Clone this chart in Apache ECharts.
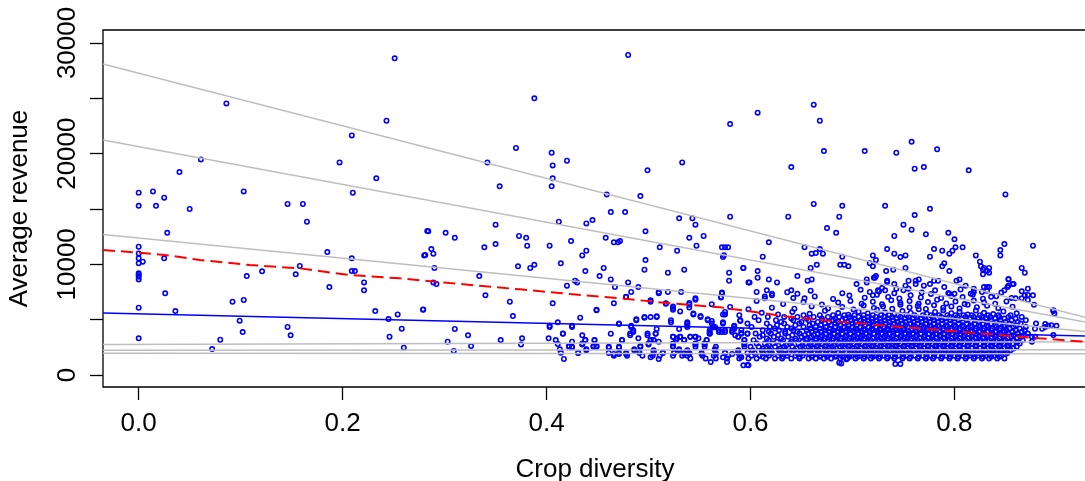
<!DOCTYPE html>
<html>
<head>
<meta charset="utf-8">
<script src="https://cdn.jsdelivr.net/npm/echarts@6/dist/echarts.min.js"></script>
<style>
  html, body { margin: 0; padding: 0; background: #fff; }
  #chart { width: 1085px; height: 481px; }
</style>
</head>
<body>
<div id="chart"></div>
<script>
// axis ticks
const xTicks = [0, 0.2, 0.4, 0.6, 0.8]
const yTicks = [0, 5000, 10000, 15000, 20000, 25000, 30000]
const yLabels = [0, 10000, 20000, 30000]

// scattered farms [crop diversity, average revenue]
const farms = [
  [0.000,16470],[0.014,16590],[0.025,16020],[0.000,15290],[0.017,15290],[0.050,15000],[0.040,18340],[0.061,19480],
  [0.086,24540],[0.103,16590],[0.146,15450],[0.161,15450],[0.165,13850],[0.028,12850],[0.000,11590],[0.000,10990],
  [0.000,10540],[0.000,10090],[0.004,10240],[0.025,10540],[0.000,9190],[0.000,9030],[0.000,8880],[0.000,8640],
  [0.106,8940],[0.121,9370],[0.154,9100],[0.158,9850],[0.185,11110],[0.197,19210],[0.209,21650],[0.243,22970],
  [0.233,17770],[0.210,16470],[0.251,28610],[0.209,10540],[0.209,9390],[0.212,9390],[0.221,8370],[0.221,7650],
  [0.187,7950],[0.026,7380],[0.092,6620],[0.103,6780],[0.000,6080],[0.036,5780],[0.232,5780],[0.254,5480],
  [0.279,5930],[0.245,5060],[0.099,4910],[0.146,4340],[0.102,3880],[0.258,4180],[0.149,3590],[0.246,3460],
  [0.000,3320],[0.080,3190],[0.072,2350],[0.260,2470],[0.283,13010],[0.281,10840],
  [0.480,28910],[0.388,25000],[0.580,22670],[0.370,20510],[0.405,20080],[0.342,19210],[0.420,19360],[0.406,18940],
  [0.533,19210],[0.499,18490],[0.406,17770],[0.354,17050],[0.405,17050],[0.492,16170],[0.459,16320],[0.463,14720],
  [0.477,14720],[0.580,14300],[0.284,12980],[0.301,12850],[0.310,12400],[0.350,13580],[0.412,13850],[0.439,13700],
  [0.445,14000],[0.530,14160],[0.543,14160],[0.546,13580],[0.497,12980],[0.373,12560],[0.380,12400],[0.381,11680],
  [0.350,11830],[0.339,11540],[0.403,11680],[0.424,12100],[0.458,12400],[0.466,11990],[0.470,11990],[0.472,12100],
  [0.540,12400],[0.554,12560],[0.511,11540],[0.528,11230],[0.547,11680],[0.572,11540],[0.575,11540],[0.578,11540],
  [0.573,10660],[0.574,10830],[0.280,10810],[0.287,11380],[0.289,10960],[0.290,9670],[0.289,8370],[0.292,8220],
  [0.435,10810],[0.439,11230],[0.414,10090],[0.388,9960],[0.384,9670],[0.372,9820],[0.438,9390],[0.456,9670],
  [0.497,10390],[0.496,9510],[0.535,9510],[0.519,9240],[0.579,9240],[0.593,9670],[0.334,8940],[0.452,8940],
  [0.463,8640],[0.428,8520],[0.430,8370],[0.480,8370],[0.467,7950],[0.490,7950],[0.420,8070],[0.579,8520],
  [0.598,8370],[0.483,7500],[0.510,7500],[0.519,7500],[0.532,7500],[0.572,7380],[0.571,7070],[0.340,7200],
  [0.478,7070],[0.546,6930],[0.517,6480],[0.540,6350],[0.364,6620],[0.406,6480],[0.466,6480],[0.502,6620],
  [0.524,6050],[0.449,5900],[0.279,5900],[0.544,5480],[0.551,5330],[0.573,5480],[0.575,5480],[0.367,5330],
  [0.433,5180],[0.488,5030],[0.496,5180],[0.502,5240],[0.508,5300],[0.522,4760],[0.558,5030],[0.562,4880],
  [0.573,4760],[0.590,4880],[0.411,4760],[0.403,4450],[0.425,4450],[0.471,4610],[0.483,4450],[0.538,4760],
  [0.538,4500],[0.563,4310],[0.565,4310],[0.584,4450],[0.584,4160],[0.310,4160],[0.508,4160],[0.530,4160],
  [0.560,3730],[0.591,3800],[0.597,3730],[0.323,3590],[0.355,3160],[0.376,3320],[0.303,3010],[0.416,3730],
  [0.402,3320],[0.409,3160],[0.435,3590],[0.438,3160],[0.425,3010],[0.447,3160],[0.326,2620],[0.375,2770],
  [0.309,2170],[0.411,2800],[0.413,2320],[0.414,2020],[0.417,1450],
  [0.463,3730],[0.474,3160],[0.482,3590],[0.485,3880],[0.490,3320],[0.499,3590],[0.502,3160],[0.505,3160],
  [0.507,3730],[0.510,3010],[0.422,2620],[0.425,2470],[0.431,2010],[0.435,2770],[0.446,2620],[0.449,2620],
  [0.439,2320],[0.461,2470],[0.466,1900],[0.471,2470],[0.471,1900],[0.478,1900],[0.486,2320],[0.491,2170],
  [0.492,2620],[0.500,2770],[0.502,1600],[0.510,1450],[0.505,2170],[0.514,2010],[0.524,2620],[0.525,2010],
  [0.527,3160],[0.530,2320],[0.535,1900],[0.538,2170],[0.540,1900],[0.546,2770],[0.552,1900],[0.555,2770],
  [0.561,1170],[0.565,2320],[0.566,1900],[0.573,1600],[0.577,1170],[0.575,2010],[0.582,1900],[0.588,2170],
  [0.591,1600],[0.594,2770],[0.598,880],
  [0.524,3460],[0.528,3320],[0.531,3460],[0.535,3160],[0.541,3460],[0.546,3460],[0.549,3320],[0.557,3160],
  [0.560,3880],[0.569,3880],[0.572,3880],[0.575,3880],[0.582,3880],[0.585,3590],[0.588,3460],[0.591,3730],[0.594,3160],
  [0.607,23700],[0.662,24420],[0.668,22970],[0.672,20230],[0.712,20230],[0.640,18790],[0.758,21070],[0.743,20080],
  [0.783,20390],[0.761,18640],[0.770,18790],[0.814,18490],[0.850,16320],[0.662,15450],[0.690,15290],[0.732,15290],
  [0.637,14300],[0.687,14300],[0.761,14450],[0.776,15020],[0.675,13280],[0.684,12850],[0.750,13580],[0.758,13130],
  [0.741,12560],[0.772,12710],[0.794,12850],[0.800,12260],[0.618,11990],[0.653,11540],[0.849,11830],[0.877,11680],
  [0.660,10960],[0.664,11020],[0.668,11380],[0.671,10960],[0.734,11380],[0.741,10960],[0.747,10660],[0.752,10810],
  [0.780,11380],[0.788,11230],[0.795,10960],[0.798,11230],[0.801,11540],[0.808,11540],[0.845,11290],[0.845,10810],
  [0.612,10690],[0.690,10690],[0.720,10810],[0.723,10390],[0.776,10690],[0.821,10810],[0.825,10240],[0.688,9960],
  [0.692,9960],[0.696,9820],[0.665,9960],[0.659,9670],[0.717,10090],[0.720,9820],[0.593,9670],[0.607,9390],
  [0.607,8790],[0.646,8940],[0.656,8520],[0.660,8640],[0.618,8640],[0.626,8370],[0.599,8370],[0.733,9390],
  [0.734,8520],[0.734,8400],[0.740,9510],[0.752,9670],[0.723,8940],[0.721,8790],[0.790,10090],[0.788,9820],
  [0.795,9390],[0.802,8520],[0.805,8640],[0.826,9820],[0.828,9510],[0.829,9670],[0.828,9100],[0.834,9670],
  [0.834,9240],[0.832,9390],[0.866,9670],[0.869,9240],[0.853,8640],[0.858,8220],[0.853,8070],
  [0.621,7200],[0.616,7650],[0.606,7500],[0.614,6930],[0.640,7650],[0.646,7340],[0.653,6930],[0.704,8220],
  [0.714,8640],[0.714,8370],[0.722,8790],[0.717,7500],[0.720,7200],[0.725,7650],[0.729,7860],[0.732,7650],
  [0.741,8220],[0.743,7800],[0.750,7650],[0.752,8070],[0.755,8520],[0.762,8520],[0.762,8220],[0.765,8640],
  [0.770,8070],[0.776,8220],[0.780,8520],[0.784,8520],[0.790,7950],[0.795,7340],[0.800,7340],[0.811,8070],
  [0.816,7340],[0.819,7800],[0.827,7500],[0.829,7950],[0.832,7950],[0.834,7950],[0.836,7070],[0.849,7650],
  [0.852,7950],[0.853,8670],[0.857,8220],[0.860,6930],[0.866,6930],[0.872,7800],[0.869,7200],[0.877,7200],
  [0.878,6350],[0.872,6780],[0.897,5780],[0.889,4600],[0.892,4450],[0.895,4500],[0.900,4450],[0.897,3610],
  [0.886,4180],[0.879,4180],[0.879,3460],[0.876,3010],
  [0.593,880],[0.597,900],[0.689,1050],[0.742,990],[0.747,990],[0.687,1110],[0.694,1420],
  // upper edge of the cluster
  [0.611,5620],[0.627,5480],[0.641,5700],[0.658,5530],[0.673,5810],[0.686,5600],[0.696,5450],[0.706,5720],
  [0.715,5560],[0.724,5890],[0.732,5640],[0.741,5500],[0.749,5780],[0.757,5610],[0.765,5950],[0.773,5530],
  [0.781,5700],[0.789,5860],[0.797,5590],[0.805,5720],[0.813,5480],[0.821,5830],[0.829,5620],[0.838,5510],
  [0.848,5740],[0.861,5580],
  [0.598,5950],[0.621,6080],[0.643,5990],[0.660,6200],[0.676,6020],[0.690,6150],[0.701,5930],[0.711,6280],
  [0.721,6060],[0.730,6190],[0.739,5980],[0.747,6340],[0.756,6110],[0.764,6230],[0.772,5970],[0.780,6300],
  [0.789,6080],[0.797,6200],[0.805,6010],[0.813,6350],[0.822,6130],[0.832,6250],[0.843,6040],[0.857,6180],
  [0.632,6420],[0.652,6600],[0.670,6380],[0.686,6550],[0.698,6700],[0.709,6450],[0.720,6620],[0.729,6390],
  [0.738,6760],[0.747,6520],[0.756,6680],[0.765,6430],[0.774,6590],[0.783,6800],[0.792,6470],[0.801,6640],
  [0.810,6410],[0.819,6730],[0.829,6560],[0.840,6440],[0.851,6650],
  [0.642,6950],[0.663,7100],[0.681,6880],[0.697,7180],[0.712,6990],[0.724,7260],[0.735,7050],[0.746,6920],
  [0.757,7200],[0.767,7010],[0.777,7330],[0.787,6960],[0.797,7150],[0.808,7040],[0.818,7280],[0.828,6900],
  [0.841,7120],[0.856,6970],[0.872,7230],
  [0.636,7480],[0.659,7620],[0.690,7400],[0.708,7700],[0.726,7550],[0.741,7380],[0.755,7800],[0.768,7460],
  [0.781,7650],[0.794,7420],[0.806,7730],[0.819,7510],[0.832,7610],[0.846,7450],[0.866,7560],
  [0.544,5550],[0.575,5700],[0.589,5400],[0.449,5850],[0.524,5900],[0.531,5750],[0.524,6200],[0.540,6100],
  [0.580,6150],[0.517,6450],[0.540,6500],[0.562,6400],[0.502,6750],[0.546,6800],[0.606,6700],[0.478,7050],
  [0.571,7000],[0.614,7100],[0.510,7400],[0.572,7450],[0.621,7350],[0.898,5550],[0.897,5850]
]

// dense cluster, one row per revenue level: [revenue, crop diversity x1000 ...]
const clusterRows = [
  [1500, [541,556,566,577,589,598,606,615,624,631,640,648,657,664,672,679,688,695,703,711,718,726,734,741,749,756,764,772,779,787,795,803,811,819,827,834,842,849]],
  [1650, [612,632,648,660,668,675,683,690,697,705,712,720,727,735,742,750,757,765,773,780,788,796,804,812,820,828,836,844]],
  [1750, [466,479,494,504,511,524,533,538,553,564,578,590,601,609,618,627,636,644,651,660,668,676,684,691,699,707,715,722,730,738,745,753,761,769,776,784,792,800,808,815,823,831,839,846]],
  [1900, [616,633,649,658,666,674,681,689,697,704,712,719,727,734,742,750,757,765,772,780,788,795,803,811,818,826,834,842,850]],
  [2000, [431,461,471,478,491,505,514,525,535,540,552,566,575,588,597,604,612,621,629,637,645,654,662,670,678,686,694,702,709,717,725,733,741,749,757,765,773,781,789,797,805,813,821,829,837,845,852]],
  [2125, [620,638,650,663,671,678,686,694,702,710,718,725,733,741,748,756,764,772,779,787,795,803,810,818,826,834,842,851]],
  [2250, [439,486,505,530,538,565,588,602,611,619,628,634,643,652,659,667,675,682,690,699,706,714,722,729,737,744,752,760,768,775,783,791,799,806,814,822,830,838,846,855]],
  [2400, [612,629,645,661,669,677,684,692,700,708,716,723,731,739,746,754,762,770,778,786,793,801,809,817,825,833,840,849,858]],
  [2550, [422,425,446,449,461,471,492,524,546,555,566,594,600,608,616,624,633,641,649,657,665,673,680,688,696,704,712,719,727,735,742,750,758,766,774,781,789,797,805,813,821,829,836,844,852,861]],
  [2700, [618,635,651,659,666,674,682,690,697,705,713,720,728,736,743,751,759,767,774,782,790,798,805,813,821,829,837,845,853]],
  [2850, [435,500,524,546,555,594,606,614,622,631,639,647,654,662,670,678,686,693,701,709,716,724,731,739,747,754,762,770,778,785,793,801,809,817,825,832,840,848,857,864]],
  [3000, [626,640,651,660,668,676,684,692,699,707,715,722,730,738,745,753,761,768,776,784,791,799,807,815,822,830,838,846,854,862]],
  [3150, [438,447,474,502,505,535,557,594,603,618,632,645,655,664,672,680,688,696,703,711,718,726,734,741,749,757,764,772,780,787,795,803,811,818,826,834,842,850,858,867]],
  [3300, [616,630,644,655,664,673,681,689,697,705,712,720,728,735,743,751,758,766,774,782,790,797,805,813,821,828,836,844,852,861]],
  [3450, [524,531,541,546,588,609,623,637,650,660,669,677,685,693,701,708,716,724,731,739,747,754,762,770,778,786,793,801,809,817,824,832,840,848,856,866,876]],
  [3600, [612,627,641,653,662,670,678,686,694,702,710,717,725,733,740,748,756,763,771,779,786,794,802,810,818,825,833,841,849,858,868]],
  [3750, [416,482,499,507,560,597,605,620,634,648,657,666,674,682,690,698,706,713,721,729,736,744,752,759,767,775,782,790,798,806,814,821,829,837,845,853,862,872]],
  [3900, [618,634,646,660,669,677,686,694,702,709,717,725,732,740,748,755,763,771,778,786,794,802,809,817,825,833,841,849,857,866]],
  [4050, [485,560,569,575,582,591,612,628,642,655,664,673,681,689,697,704,712,720,727,735,743,750,758,766,773,781,789,797,805,812,820,828,836,844,851,860,869]],
  [4200, [624,640,659,668,678,687,695,703,711,719,727,734,742,750,758,765,773,781,789,797,805,813,821,829,837,845,854,864]],
  [4350, [403,425,483,538,563,565,584,601,619,636,652,664,674,683,692,700,708,716,723,731,739,746,754,762,770,777,785,793,801,809,817,825,833,841,849,858,870,889]],
  [4500, [626,644,658,669,679,688,696,704,712,720,728,736,744,752,760,768,776,784,792,800,808,816,824,832,840,849,860]],
  [4650, [471,538,562,573,597,616,633,648,661,673,683,692,700,709,717,725,733,741,749,757,764,772,780,788,796,804,812,820,828,836,844,854,865,880]],
  [4800, [630,650,666,677,686,695,703,711,719,727,736,744,752,760,768,776,784,792,800,808,816,824,832,841,850,862]],
  [4950, [488,522,558,590,608,625,642,657,670,681,690,699,708,716,724,732,740,748,756,764,772,780,788,796,804,812,820,828,836,845,856,870]],
  [5100, [640,655,670,683,693,702,711,719,727,735,743,751,759,767,775,783,791,799,807,815,823,831,840,849,860]],
  [5250, [496,508,551,604,617,633,646,662,676,687,697,706,715,723,731,739,747,755,763,771,779,787,795,803,811,819,827,835,844,853,866]],
  [5400, [652,668,681,692,702,711,720,728,736,745,753,761,769,777,785,793,801,809,817,825,833,843,855]]
]

// fitted lines, revenue at the two ends of the x range
const lineEnds = [-0.035, 0.93]
const quantileFits = [
  [28090, 5170],
  [21230, 4750],
  [12700, 3915],
  [2770, 3010],
  [2230, 2290],
  [1960, 1930]
]
const medianFit = [5606, 3512]

// smoothed mean (red dashed)
const smoothX = [-0.035, 0.001, 0.03, 0.06, 0.109, 0.158, 0.207, 0.256, 0.305, 0.374, 0.423, 0.472, 0.521, 0.570, 0.638, 0.687, 0.736, 0.785, 0.834, 0.883, 0.93]
const smoothY = [11290, 11050, 10800, 10390, 9940, 9640, 9030, 8740, 8310, 7740, 7320, 6930, 6480, 6120, 5270, 4820, 4430, 4070, 3700, 3320, 2990]

const points = farms.slice()
clusterRows.forEach(([rev, xs]) => {
  xs.forEach(x => points.push([x / 1000, rev]))
})

const font = "'Liberation Sans', Arial, sans-serif"
const axisText = { color: '#000', fontFamily: font, fontSize: 26 }

const lineSeries = (data, color, width, type, z) => ({
  type: 'line',
  data,
  showSymbol: false,
  symbol: 'none',
  silent: true,
  z,
  lineStyle: { color, width, type }
})

const series = [
  {
    type: 'scatter',
    data: points,
    symbol: 'circle',
    symbolSize: 4.4,
    z: 2,
    large: false,
    itemStyle: { color: 'rgba(0,0,0,0)', borderColor: '#0000ff', borderWidth: 1.6, opacity: 1 }
  }
]
quantileFits.forEach(fit => {
  series.push(lineSeries(lineEnds.map((x, i) => [x, fit[i]]), '#bebebe', 1.5, 'solid', 3))
})
series.push(lineSeries(lineEnds.map((x, i) => [x, medianFit[i]]), '#0000ff', 1.5, 'solid', 4))
series.push(lineSeries(smoothX.map((x, i) => [x, smoothY[i]]), '#ff0000', 2, [12, 6], 4))

const chart = echarts.init(document.getElementById('chart'), null, { renderer: 'canvas' })
chart.setOption({
  animation: false,
  backgroundColor: '#fff',
  grid: {
    left: 103,
    top: 30,
    width: 984,
    height: 357,
    show: true,
    borderColor: '#000',
    borderWidth: 1.3,
    backgroundColor: 'transparent',
    containLabel: false,
    outerBoundsMode: 'none'
  },
  xAxis: {
    type: 'value',
    min: -0.035,
    max: 0.93,
    axisLine: { show: false, onZero: false },
    splitLine: { show: false },
    axisTick: { show: true, length: 13, inside: false, customValues: xTicks, lineStyle: { color: '#000', width: 1.3 } },
    axisLabel: Object.assign({ customValues: xTicks, margin: 24, formatter: v => v.toFixed(1) }, axisText),
    name: 'Crop diversity',
    nameLocation: 'middle',
    nameGap: 70,
    nameTextStyle: axisText
  },
  yAxis: {
    type: 'value',
    min: -1080,
    max: 31170,
    axisLine: { show: false, onZero: false },
    splitLine: { show: false },
    axisTick: { show: true, length: 13, inside: false, customValues: yTicks, lineStyle: { color: '#000', width: 1.3 } },
    axisLabel: Object.assign({ customValues: yLabels, margin: 22, rotate: 90, formatter: v => String(v) }, axisText),
    name: 'Average revenue',
    nameLocation: 'middle',
    nameGap: 70,
    nameRotate: 90,
    nameTextStyle: axisText
  },
  series
})
</script>
</body>
</html>
